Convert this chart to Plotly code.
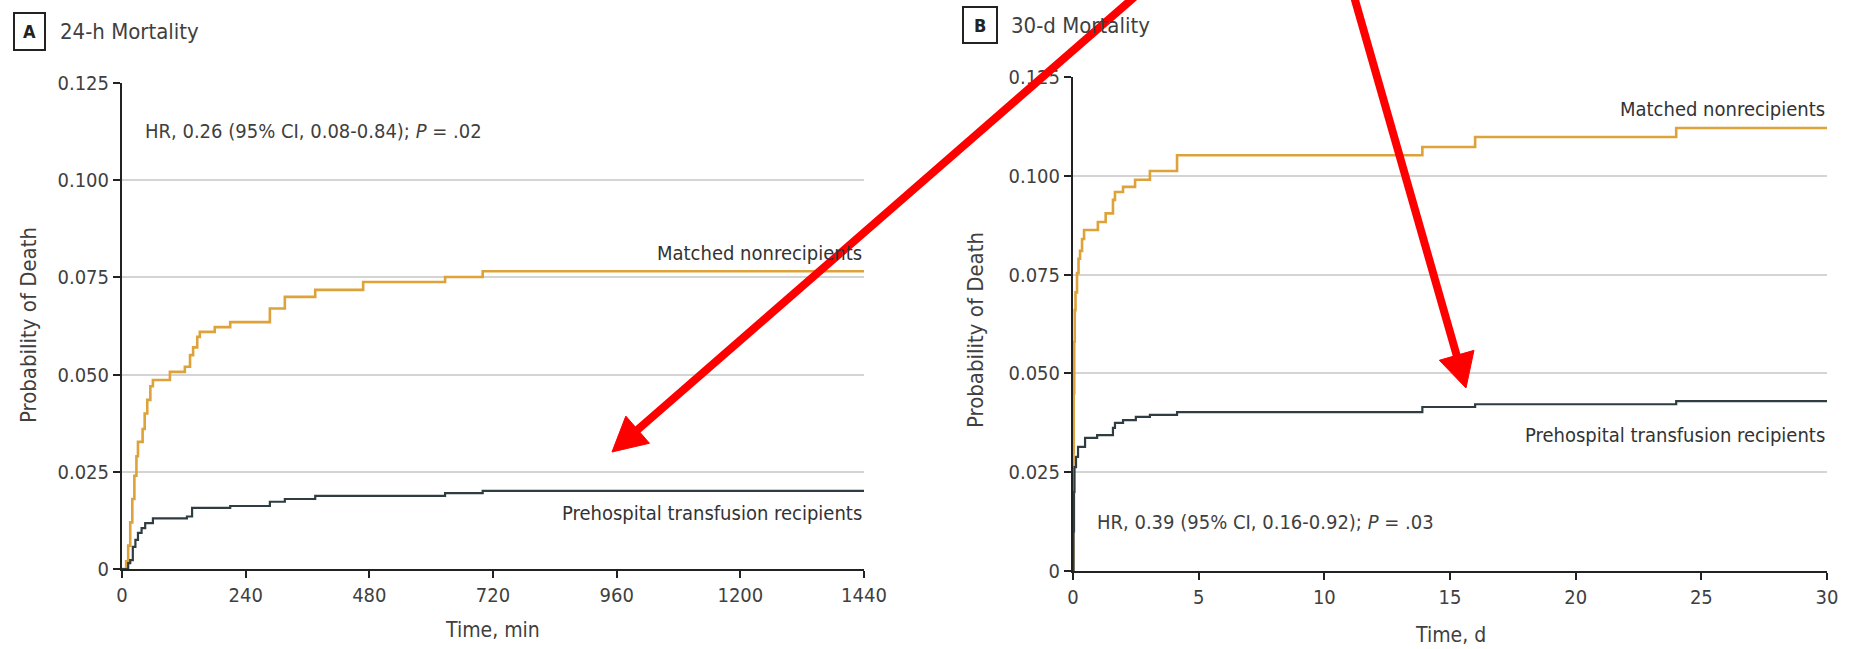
import math
import plotly.graph_objects as go

W, H = 1851, 649

# ---------------- data ----------------
# Panel A: 24-h mortality (time in minutes)
a_time_nonrec = [0, 8, 12, 16, 20, 24, 28, 31, 40, 44, 49, 55, 60, 93, 122, 132, 138, 146,
                 151, 180, 210, 287, 316, 375, 468, 627, 700, 1440]
a_prob_nonrec = [0, 0.002, 0.006, 0.012, 0.018, 0.024, 0.029, 0.0327, 0.036, 0.040, 0.0435,
                 0.047, 0.0486, 0.0507, 0.052, 0.055, 0.057, 0.0597, 0.061, 0.0622, 0.0635,
                 0.067, 0.070, 0.0718, 0.0738, 0.0751, 0.0766, 0.0766]
a_time_rec = [0, 6, 12, 16, 21, 26, 31, 38, 45, 60, 126, 136, 210, 287, 316, 375, 627, 700, 1440]
a_prob_rec = [0, 0.0, 0.0015, 0.0023, 0.0057, 0.0075, 0.0093, 0.0105, 0.0118, 0.0130, 0.0135,
              0.0157, 0.0162, 0.0173, 0.0180, 0.0188, 0.0195, 0.0201, 0.0201]

# Panel B: 30-d mortality (time in days)
b_time_nonrec = [0, 0.01, 0.02, 0.03, 0.05, 0.07, 0.10, 0.16, 0.22, 0.28, 0.36, 0.44, 0.99,
                 1.30, 1.59, 1.67, 1.99, 2.47, 3.06, 4.14, 13.9, 16.0, 24.0, 30]
b_prob_nonrec = [0, 0.012, 0.030, 0.045, 0.058, 0.066, 0.0705, 0.0754, 0.079, 0.081, 0.084,
                 0.0863, 0.0883, 0.0905, 0.0939, 0.0959, 0.0972, 0.0990, 0.1012, 0.1052,
                 0.1073, 0.1098, 0.1121, 0.1121]
b_time_rec = [0, 0.02, 0.04, 0.06, 0.12, 0.20, 0.48, 0.96, 1.59, 1.67, 1.99, 2.50, 3.06, 4.14,
              13.9, 16.0, 24.0, 30]
b_prob_rec = [0, 0.010, 0.020, 0.0263, 0.0289, 0.0314, 0.0337, 0.0344, 0.0362, 0.0375, 0.0382,
              0.0390, 0.0395, 0.0402, 0.0415, 0.0422, 0.0430, 0.0430]

y_tickvals = [0, 0.025, 0.05, 0.075, 0.1, 0.125]
y_ticktext = ["0", "0.025", "0.050", "0.075", "0.100", "0.125"]
a_xticks = [0, 240, 480, 720, 960, 1200, 1440]
b_xticks = [0, 5, 10, 15, 20, 25, 30]

# ---------------- style ----------------
FONT = "Liberation Sans Narrow, DejaVu Sans Condensed, Arial Narrow, sans-serif"
TXT = "#3f3f3f"
ORANGE = "#DDA23A"
DARK = "#2F3D42"
GRID = "#d4d4d4"
AX = "#222222"


def px_x(p):
    return p / W


def px_y(p):
    return 1 - p / H


fig = go.Figure()
fig.add_trace(go.Scatter(x=a_time_nonrec, y=a_prob_nonrec, mode="lines", line=dict(shape="hv", color=ORANGE, width=2.6),
                         xaxis="x", yaxis="y", showlegend=False))
fig.add_trace(go.Scatter(x=a_time_rec, y=a_prob_rec, mode="lines", line=dict(shape="hv", color=DARK, width=2.2),
                         xaxis="x", yaxis="y", showlegend=False))
fig.add_trace(go.Scatter(x=b_time_nonrec, y=b_prob_nonrec, mode="lines", line=dict(shape="hv", color=ORANGE, width=2.6),
                         xaxis="x2", yaxis="y2", showlegend=False))
fig.add_trace(go.Scatter(x=b_time_rec, y=b_prob_rec, mode="lines", line=dict(shape="hv", color=DARK, width=2.2),
                         xaxis="x2", yaxis="y2", showlegend=False))

xax_common = dict(showgrid=False, zeroline=False, showline=True, linecolor=AX, linewidth=2,
                  ticks="outside", ticklen=7, tickwidth=2, tickcolor=AX, automargin=False,
                  tickfont=dict(family=FONT, size=20, color=TXT), fixedrange=True)
yax_common = dict(showgrid=True, gridcolor=GRID, gridwidth=1.5, zeroline=False, showline=True,
                  linecolor=AX, linewidth=2, ticks="outside", ticklen=7, tickwidth=2, tickcolor=AX,
                  tickfont=dict(family=FONT, size=20, color=TXT), range=[0, 0.125], automargin=False,
                  tickvals=y_tickvals, ticktext=y_ticktext, fixedrange=True)

fig.update_layout(
    template="none",
    width=W, height=H,
    margin=dict(l=0, r=0, t=0, b=0, pad=0, autoexpand=False),
    paper_bgcolor="white", plot_bgcolor="white",
    xaxis=dict(**xax_common, domain=[px_x(122), px_x(864)], range=[0, 1440], tickvals=a_xticks,
               anchor="y"),
    yaxis=dict(**yax_common, domain=[px_y(569), px_y(83)], anchor="x"),
    xaxis2=dict(**xax_common, domain=[px_x(1073), px_x(1827)], range=[0, 30], tickvals=b_xticks,
                anchor="y2"),
    yaxis2=dict(**yax_common, domain=[px_y(571), px_y(77)], anchor="x2"),
)

ann = []
shapes = []


def text_ann(text, x, y, xref="paper", yref="paper", xanchor="left", yanchor="middle", size=20,
             color=TXT, angle=0):
    ann.append(dict(text=text, x=x, y=y, xref=xref, yref=yref, xanchor=xanchor, yanchor=yanchor,
                    showarrow=False, textangle=angle, font=dict(family=FONT, size=size, color=color)))


# panel labels in boxes
for lab, x0, y0, x1, y1 in [("A", 14, 13, 45, 50), ("B", 963, 7, 997, 43)]:
    shapes.append(dict(type="rect", xref="paper", yref="paper", x0=px_x(x0), x1=px_x(x1),
                       y0=px_y(y1), y1=px_y(y0), line=dict(color="#222", width=2)))
    text_ann("<b>%s</b>" % lab, px_x((x0 + x1) / 2), px_y((y0 + y1) / 2), xanchor="center",
             size=18, color="#222")
text_ann("24-h Mortality", px_x(58), px_y(31), size=22)
text_ann("30-d Mortality", px_x(1009), px_y(25), size=22)

# axis titles
text_ann("Probability of Death", px_x(28), px_y(325), xanchor="center", angle=-90, size=22)
text_ann("Probability of Death", px_x(975), px_y(330), xanchor="center", angle=-90, size=22)
text_ann("Time, min", px_x(493), px_y(630), xanchor="center", size=21)
text_ann("Time, d", px_x(1450), px_y(635), xanchor="center", size=21)

# in-plot labels
text_ann("HR, 0.26 (95% CI, 0.08-0.84); <i>P</i> = .02", 41, 0.1127, xref="x", yref="y", size=20)
text_ann("Matched nonrecipients", 1440, 0.0813, xref="x", yref="y", xanchor="right", size=20, color="#333")
text_ann("Prehospital transfusion recipients", 1440, 0.0144, xref="x", yref="y", xanchor="right", size=20, color="#333")
text_ann("Matched nonrecipients", 30, 0.1169, xref="x2", yref="y2", xanchor="right", size=20, color="#333")
text_ann("Prehospital transfusion recipients", 30, 0.0344, xref="x2", yref="y2", xanchor="right", size=20, color="#333")
text_ann("HR, 0.39 (95% CI, 0.16-0.92); <i>P</i> = .03", 0.875, 0.0124, xref="x2", yref="y2", size=20)


# red overlay arrows (drawn as line + triangular head, in pixel space)
def arrow(tip, through, head_len=34, head_half=18, width=8, color="#FF0000"):
    dx, dy = through[0] - tip[0], through[1] - tip[1]
    L = math.hypot(dx, dy)
    ux, uy = dx / L, dy / L
    nx, ny = -uy, ux
    bx, by = tip[0] + ux * head_len, tip[1] + uy * head_len
    # extend the shaft beyond the top edge
    t = (tip[1] + 20) / -uy
    ex, ey = tip[0] + ux * t, tip[1] + uy * t
    shapes.append(dict(type="line", xref="paper", yref="paper",
                       x0=px_x(bx - ux * 2), y0=px_y(by - uy * 2), x1=px_x(ex), y1=px_y(ey),
                       line=dict(color=color, width=width)))
    p1 = (bx + nx * head_half, by + ny * head_half)
    p2 = (bx - nx * head_half, by - ny * head_half)
    path = "M %f %f L %f %f L %f %f Z" % (px_x(tip[0]), px_y(tip[1]), px_x(p1[0]), px_y(p1[1]),
                                          px_x(p2[0]), px_y(p2[1]))
    shapes.append(dict(type="path", xref="paper", yref="paper", path=path,
                       fillcolor=color, line=dict(color=color, width=1)))


arrow((612, 452), (1131, 0))
arrow((1466, 388), (1355, 0))

fig.update_layout(annotations=ann, shapes=shapes)
fig.write_html("out.html")
